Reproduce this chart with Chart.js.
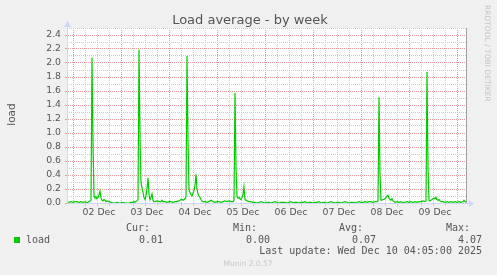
<!DOCTYPE html>
<html>
<head>
<meta charset="utf-8">
<script src="https://cdn.jsdelivr.net/npm/chart.js@4.4.1/dist/chart.umd.min.js"></script>
<style>
  html, body { margin: 0; padding: 0; background: #f0f0f0; }
  canvas { display: block; }
</style>
</head>
<body>
<canvas id="chart" width="497" height="275"></canvas>
<script>
// hours since the left edge of the graph (01 Dec 21:00), one sample per point
var hours = [
  0, 1, 2, 3, 4, 5, 6, 7, 8, 9, 10, 10.5, 11, 11.5, 12,
  12.5, 13, 13.5, 14, 14.5, 15, 15.5, 16, 16.5, 17, 17.5, 18, 18.5, 19, 19.5, 20, 21, 22,
  23, 24, 25, 26, 27, 28, 29, 30, 31, 32, 33, 33.5, 34, 34.5, 35, 35.5,
  36, 36.5, 37, 37.5, 38, 38.5, 39, 39.5, 40, 40.5, 41, 41.5, 42, 42.5, 43, 43.5, 44, 45, 46, 47, 47.5, 48, 49, 50, 51, 52, 53, 54, 55, 56, 56.5, 57, 57.5, 58, 58.5, 59, 59.5,
  60, 60.5, 61, 61.5, 62, 62.5, 63, 63.5, 64, 64.5, 65, 65.5, 66, 66.5, 67, 67.5, 68, 69, 70, 71, 72, 73, 74, 75, 76, 77, 78, 79, 80, 81, 82, 83, 83.5,
  84, 84.5, 85, 85.5, 86, 86.5, 87, 87.5, 88, 88.5, 89, 89.5, 90, 91, 92,
  93, 94, 95, 96, 97, 98, 99, 100, 101, 102, 103, 104, 105, 106, 107, 108, 109, 110, 111, 112, 113, 114, 115, 116, 117, 118, 119, 120,
  121, 122, 123, 124, 125, 126, 127, 128, 129, 130, 131, 132, 133, 134, 135, 136, 137, 138, 139, 140, 141, 142, 143, 144, 145, 146, 147, 148,
  149, 150, 151, 152, 153, 154, 155, 155.5,
  156, 156.5, 157, 157.5, 158, 158.5, 159, 159.5, 160, 160.5, 161, 161.5, 162, 162.5, 163, 163.5, 164, 165, 166, 167, 168, 169, 170, 171, 172, 173, 174, 175, 176, 177, 178, 179, 179.5,
  180, 180.5, 181, 181.5, 182, 182.5, 183, 183.5, 184, 184.5, 185, 185.5, 186, 186.5, 187, 188, 189, 190, 191, 192, 193, 194, 195, 196, 197, 198, 198.5, 199, 199.5
];
var load = [
  0.02, 0.01, 0.02, 0.01, 0.02, 0.02, 0.01, 0.02, 0.01, 0.02, 0.00, 0.01, 0.02, 0.03, 0.04,
  2.08, 0.85, 0.10, 0.07, 0.09, 0.06, 0.08, 0.12, 0.17, 0.07, 0.04, 0.03, 0.05, 0.04, 0.02, 0.03, 0.02, 0.01,
  0.00, 0.00, 0.01, 0.00, 0.00, 0.01, 0.00, 0.00, 0.00, 0.01, 0.01, 0.02, 0.01, 0.02, 0.03, 0.05,
  2.19, 0.95, 0.30, 0.22, 0.15, 0.08, 0.05, 0.10, 0.20, 0.36, 0.12, 0.05, 0.08, 0.13, 0.04, 0.02, 0.02, 0.03, 0.02, 0.02, 0.04, 0.02, 0.02, 0.01, 0.02, 0.02, 0.01, 0.02, 0.02, 0.03, 0.04, 0.05, 0.05, 0.04, 0.05, 0.06, 0.09,
  2.10, 0.90, 0.19, 0.15, 0.12, 0.10, 0.14, 0.18, 0.25, 0.41, 0.20, 0.13, 0.10, 0.08, 0.05, 0.03, 0.02, 0.02, 0.01, 0.02, 0.04, 0.02, 0.01, 0.02, 0.02, 0.01, 0.02, 0.03, 0.02, 0.03, 0.02, 0.02, 0.04,
  1.57, 0.50, 0.09, 0.07, 0.08, 0.06, 0.05, 0.08, 0.12, 0.23, 0.05, 0.04, 0.03, 0.02, 0.02,
  0.01, 0.01, 0.00, 0.01, 0.02, 0.01, 0.00, 0.01, 0.01, 0.00, 0.01, 0.02, 0.01, 0.00, 0.01, 0.01, 0.01, 0.00, 0.01, 0.02, 0.00, 0.01, 0.01, 0.00, 0.01, 0.01, 0.02, 0.00,
  0.01, 0.01, 0.00, 0.01, 0.01, 0.02, 0.00, 0.01, 0.01, 0.00, 0.01, 0.02, 0.01, 0.00, 0.01, 0.01, 0.00, 0.01, 0.02, 0.01, 0.00, 0.01, 0.01, 0.00, 0.01, 0.02, 0.01, 0.01,
  0.02, 0.01, 0.02, 0.02, 0.01, 0.02, 0.02, 0.03,
  1.51, 0.40, 0.04, 0.04, 0.05, 0.05, 0.06, 0.08, 0.10, 0.11, 0.07, 0.05, 0.04, 0.06, 0.03, 0.02, 0.01, 0.02, 0.01, 0.02, 0.00, 0.01, 0.02, 0.01, 0.02, 0.01, 0.02, 0.01, 0.02, 0.02, 0.03, 0.02, 0.03,
  1.87, 0.50, 0.04, 0.03, 0.04, 0.05, 0.06, 0.07, 0.06, 0.08, 0.05, 0.04, 0.05, 0.03, 0.02, 0.02, 0.01, 0.02, 0.01, 0.02, 0.01, 0.02, 0.01, 0.02, 0.01, 0.02, 0.04, 0.02, 0.01
];
var dayLabels = ['02 Dec', '03 Dec', '04 Dec', '05 Dec', '06 Dec', '07 Dec', '08 Dec', '09 Dec'];
var firstMidnight = 3;   // 02 Dec 00:00, in hours from the left edge
var hourMax = 199.5;
var loadMax = 2.5;
var legendHeads = ['Cur:', 'Min:', 'Avg:', 'Max:'];
var legendValues = ['0.01', '0.00', '0.07', '4.07'];
var lastUpdate = 'Last update: Wed Dec 10 04:05:00 2025';

var MAJOR = '#e69a9a';
var MINOR = '#cacaca';
var AXIS = '#cfd6f8';
var TEXT = '#555555';

Chart.defaults.font.family = 'DejaVu Sans';

var munin = {
  id: 'munin',
  beforeDraw: function(chart) {
    var ctx = chart.ctx, a = chart.chartArea;
    ctx.save();
    ctx.fillStyle = '#f0f0f0';
    ctx.fillRect(0, 0, chart.width, chart.height);
    ctx.fillStyle = '#ffffff';
    ctx.fillRect(a.left, a.top, a.right - a.left, a.bottom - a.top);
    ctx.restore();
  },
  afterDraw: function(chart) {
    var ctx = chart.ctx, a = chart.chartArea;
    ctx.save();
    // frame on the right
    ctx.strokeStyle = '#a0a0a0';
    ctx.lineWidth = 1;
    ctx.beginPath();
    ctx.moveTo(a.right + 0.5, a.top);
    ctx.lineTo(a.right + 0.5, a.bottom);
    ctx.stroke();
    // axis arrows
    ctx.strokeStyle = AXIS;
    ctx.fillStyle = AXIS;
    ctx.beginPath();
    ctx.moveTo(a.left + 0.5, a.top);
    ctx.lineTo(a.left + 0.5, a.top - 4);
    ctx.moveTo(a.right, a.bottom + 0.5);
    ctx.lineTo(a.right + 4, a.bottom + 0.5);
    ctx.stroke();
    ctx.beginPath();
    ctx.moveTo(a.left - 3, a.top - 1);
    ctx.lineTo(a.left + 4, a.top - 1);
    ctx.lineTo(a.left + 0.5, a.top - 7);
    ctx.closePath();
    ctx.fill();
    ctx.beginPath();
    ctx.moveTo(a.right + 3, a.bottom - 3);
    ctx.lineTo(a.right + 3, a.bottom + 4);
    ctx.lineTo(a.right + 8, a.bottom + 0.5);
    ctx.closePath();
    ctx.fill();

    // title
    ctx.fillStyle = TEXT;
    ctx.font = '13px "DejaVu Sans"';
    ctx.textAlign = 'center';
    ctx.textBaseline = 'alphabetic';
    ctx.fillText('Load average - by week', 250, 23.5);

    // vertical axis title
    ctx.save();
    ctx.translate(15, 114.5);
    ctx.rotate(-Math.PI / 2);
    ctx.font = '10.5px "DejaVu Sans"';
    ctx.fillText('load', 0, 0);
    ctx.restore();

    // watermark
    ctx.save();
    ctx.translate(484.5, 5);
    ctx.rotate(Math.PI / 2);
    ctx.fillStyle = '#c4c4c4';
    ctx.font = '7.5px "DejaVu Sans"';
    ctx.textAlign = 'left';
    ctx.fillText('RRDTOOL / TOBI OETIKER', 0, 0);
    ctx.restore();

    // legend
    ctx.fillStyle = '#00cc00';
    ctx.fillRect(14, 237, 6, 6);
    ctx.fillStyle = TEXT;
    ctx.font = '10px "DejaVu Sans Mono"';
    ctx.textAlign = 'left';
    ctx.textBaseline = 'middle';
    ctx.fillText('load', 26, 240);
    var headRight = [150, 257, 363, 470];
    var valueRight = [163, 270, 376, 482];
    ctx.textAlign = 'right';
    for (var i = 0; i < legendHeads.length; i++) {
      ctx.fillText(legendHeads[i], headRight[i], 228.5);
      ctx.fillText(legendValues[i], valueRight[i], 240);
    }
    ctx.fillText(lastUpdate, 482, 251.5);

    ctx.fillStyle = '#c8c8c8';
    ctx.font = '7.5px "DejaVu Sans"';
    ctx.textAlign = 'center';
    ctx.fillText('Munin 2.0.57', 248, 264.5);
    ctx.restore();
  }
};

// tick lists: midnights get the red grid, the other 6-hour marks the grey one
function hourTicks(midnights) {
  return function(axis) {
    var t = [];
    for (var h = firstMidnight; h <= hourMax; h += 6) {
      if (((h - firstMidnight) % 24 === 0) === midnights) t.push({ value: h });
    }
    axis.ticks = t;
  };
}
function loadTicks(even) {
  return function(axis) {
    var t = [];
    for (var k = even ? 0 : 1; k <= Math.round(loadMax * 10); k += 2) t.push({ value: k / 10 });
    axis.ticks = t;
  };
}

new Chart(document.getElementById('chart'), {
  type: 'line',
  data: {
    datasets: [{
      label: 'load',
      data: hours.map(function(h, i) { return { x: h, y: load[i] }; }),
      borderColor: '#00cc00',
      borderWidth: 1.2,
      pointRadius: 0,
      tension: 0,
      fill: false
    }]
  },
  options: {
    responsive: false,
    animation: false,
    devicePixelRatio: 1,
    layout: { padding: { top: 28, right: 31, left: 0, bottom: 0 } },
    plugins: { legend: { display: false }, title: { display: false }, tooltip: { enabled: false } },
    scales: {
      x: {
        type: 'linear',
        min: 0,
        max: hourMax,
        afterFit: function(axis) { axis.height = 72; },
        afterBuildTicks: hourTicks(false),
        ticks: {
          autoSkip: false,
          maxRotation: 0,
          padding: 1,
          labelOffset: 2,
          color: TEXT,
          font: { size: 9.3 },
          callback: function(v) {
            var off = v - firstMidnight;
            if (off % 24 === 12) return dayLabels[(off - 12) / 24];
            return '';
          }
        },
        grid: { tickLength: 3, color: MINOR },
        border: { color: AXIS, z: 1, dash: [1, 1] }
      },
      xDay: {
        type: 'linear',
        position: 'bottom',
        min: 0,
        max: hourMax,
        afterFit: function(axis) { axis.height = 0; },
        afterBuildTicks: hourTicks(true),
        ticks: { display: false },
        grid: { tickLength: 3, color: MAJOR },
        border: { display: false, dash: [1, 1] }
      },
      y: {
        min: 0,
        max: loadMax,
        afterFit: function(axis) { axis.width = 67; },
        afterBuildTicks: loadTicks(true),
        ticks: {
          autoSkip: false,
          padding: 4,
          color: TEXT,
          font: { size: 9.3 },
          callback: function(v) { return v.toFixed(1); }
        },
        grid: { tickLength: 2, color: MAJOR },
        border: { color: AXIS, z: 1, dash: [1, 1] }
      },
      yMinor: {
        type: 'linear',
        position: 'left',
        min: 0,
        max: loadMax,
        afterFit: function(axis) { axis.width = 0; },
        afterBuildTicks: loadTicks(false),
        ticks: { display: false },
        grid: { drawTicks: false, color: MINOR },
        border: { display: false, dash: [1, 1] }
      }
    }
  },
  plugins: [munin]
});
</script>
</body>
</html>
